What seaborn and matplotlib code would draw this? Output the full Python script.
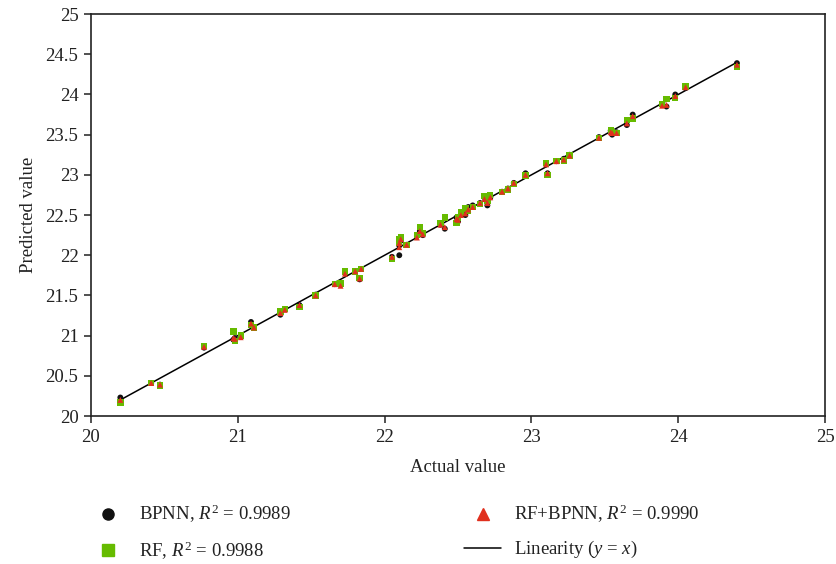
import numpy as np
import pandas as pd
import matplotlib
matplotlib.use("Agg")
import matplotlib.pyplot as plt
import seaborn as sns
from matplotlib.lines import Line2D

actual = [20.2, 20.41, 20.47, 20.77, 20.97, 20.98, 21.02, 21.09, 21.11, 21.29,
          21.32, 21.42, 21.53, 21.66, 21.7, 21.73, 21.8, 21.83, 21.84, 22.05,
          22.1, 22.1, 22.11, 22.15, 22.22, 22.24, 22.26, 22.38, 22.41, 22.49,
          22.5, 22.52, 22.55, 22.57, 22.6, 22.65, 22.68, 22.7, 22.72, 22.8,
          22.84, 22.88, 22.96, 23.1, 23.11, 23.17, 23.22, 23.26, 23.46, 23.54,
          23.55, 23.58, 23.65, 23.69, 23.89, 23.92, 23.98, 24.05, 24.4]
bpnn = [20.23, 20.41, 20.39, 20.85, 20.95, 20.97, 21.0, 21.17, 21.1, 21.26,
        21.33, 21.38, 21.51, 21.64, 21.63, 21.78, 21.8, 21.7, 21.83, 21.98,
        22.0, 22.12, 22.18, 22.13, 22.24, 22.3, 22.25, 22.38, 22.33, 22.47,
        22.42, 22.5, 22.5, 22.6, 22.62, 22.65, 22.72, 22.62, 22.72, 22.79,
        22.83, 22.9, 23.02, 23.13, 23.02, 23.17, 23.2, 23.25, 23.47, 23.55,
        23.5, 23.53, 23.62, 23.75, 23.87, 23.85, 24.0, 24.08, 24.39]
rf = [20.17, 20.41, 20.38, 20.87, 21.05, 20.93, 21.0, 21.13, 21.1, 21.3,
      21.33, 21.36, 21.5, 21.64, 21.65, 21.8, 21.8, 21.72, 21.83, 21.95,
      22.15, 22.2, 22.22, 22.13, 22.25, 22.35, 22.28, 22.4, 22.47, 22.4,
      22.47, 22.53, 22.58, 22.55, 22.6, 22.64, 22.74, 22.68, 22.75, 22.79,
      22.82, 22.89, 22.99, 23.15, 23.0, 23.17, 23.18, 23.24, 23.46, 23.56,
      23.53, 23.52, 23.68, 23.7, 23.88, 23.94, 23.96, 24.1, 24.34]
rfbp = [20.2, 20.41, 20.39, 20.86, 20.97, 20.96, 20.98, 21.15, 21.1, 21.28,
        21.32, 21.38, 21.5, 21.64, 21.62, 21.77, 21.8, 21.71, 21.83, 21.98,
        22.1, 22.15, 22.2, 22.13, 22.22, 22.3, 22.26, 22.38, 22.35, 22.45,
        22.44, 22.5, 22.52, 22.57, 22.6, 22.65, 22.7, 22.65, 22.72, 22.79,
        22.83, 22.9, 23.0, 23.13, 23.02, 23.17, 23.19, 23.24, 23.46, 23.53,
        23.52, 23.52, 23.64, 23.73, 23.86, 23.87, 23.98, 24.09, 24.37]
line_x = [20.2, 24.4]
ticks = [20, 20.5, 21, 21.5, 22, 22.5, 23, 23.5, 24, 24.5, 25]
xticks = [20, 21, 22, 23, 24, 25]

sns.set_theme(style="ticks")
plt.rcParams["font.family"] = ["Liberation Serif", "DejaVu Serif"]
plt.rcParams["mathtext.fontset"] = "custom"
plt.rcParams["mathtext.rm"] = "Liberation Serif"
plt.rcParams["mathtext.it"] = "Liberation Serif:italic"

c_bp, c_rf, c_rfbp = "#111111", "#66bb00", "#e0301e"

fig = plt.figure(figsize=(8.37, 5.64), dpi=100)
ax = fig.add_axes([0.1087, 0.2624, 0.8770, 0.7126])

df = pd.DataFrame({"actual": actual, "bpnn": bpnn, "rf": rf, "rfbp": rfbp})
sns.lineplot(x=line_x, y=line_x, ax=ax, color="black", linewidth=1.1, zorder=1)
sns.scatterplot(data=df, x="actual", y="bpnn", ax=ax, marker="o", s=18,
                color=c_bp, edgecolor="none", zorder=2)
sns.scatterplot(data=df, x="actual", y="rf", ax=ax, marker="s", s=21,
                color=c_rf, edgecolor="none", zorder=3)
sns.scatterplot(data=df, x="actual", y="rfbp", ax=ax, marker="^", s=18,
                color=c_rfbp, edgecolor="none", zorder=4)

ax.set_xlim(20, 25)
ax.set_ylim(20, 25)
ax.set_xticks(xticks)
ax.set_xticklabels([f"{t:g}" for t in xticks])
ax.set_yticks(ticks)
ax.set_yticklabels([f"{t:g}" for t in ticks])
ax.tick_params(axis="both", direction="out", length=5, width=1.1,
               labelsize=13.5, colors="#222222", pad=4)
ax.tick_params(top=False, right=False)
for s in ax.spines.values():
    s.set_visible(True)
    s.set_color("#222222")
    s.set_linewidth(1.2)
ax.set_xlabel("Actual value", fontsize=13.5, color="#222222", labelpad=10)
ax.set_ylabel("Predicted value", fontsize=13.5, color="#222222", labelpad=6)

handles = [
    Line2D([], [], marker="o", linestyle="none", color=c_bp, markersize=8),
    Line2D([], [], marker="s", linestyle="none", color=c_rf, markersize=8),
    Line2D([], [], marker="^", linestyle="none", color=c_rfbp, markersize=8),
    Line2D([], [], color="black", linewidth=1.1),
]
labels = ["BPNN, $R^2$ = 0.9989", "RF, $R^2$ = 0.9988",
          "RF+BPNN, $R^2$ = 0.9990", "Linearity ($y$ = $x$)"]
fig.legend(handles, labels, ncol=2, loc="upper left",
           bbox_to_anchor=(0.086, 0.138), frameon=False, fontsize=13.5,
           columnspacing=9.25, handlelength=2.0, handletextpad=0.65,
           labelspacing=0.75, labelcolor="#222222")

fig.savefig("out.png", dpi=100)
